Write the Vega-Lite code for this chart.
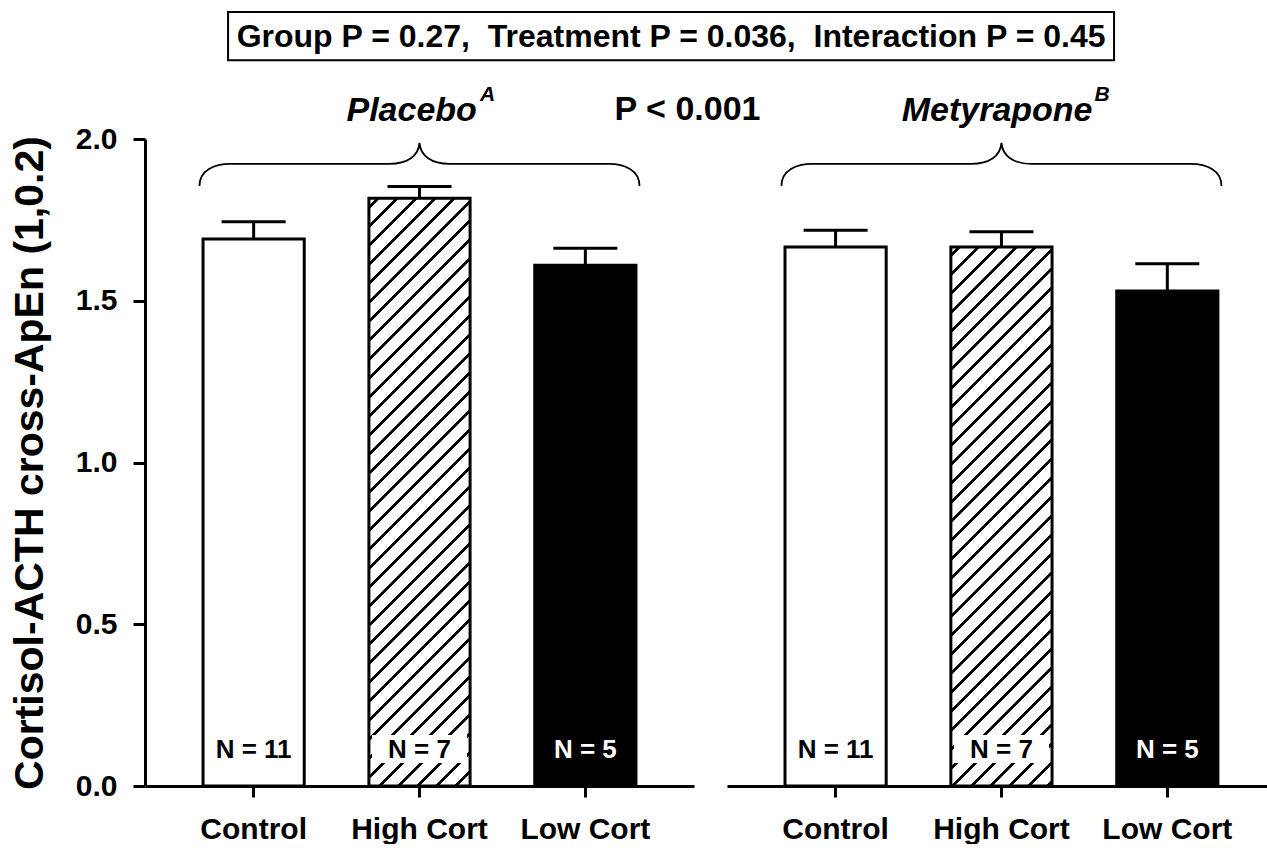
{
  "$schema": "https://vega.github.io/schema/vega-lite/v6.json",
  "padding": {"left": 9, "top": 8, "right": 0, "bottom": 0},
  "background": "white",
  "config": {"view": {"stroke": null}, "font": "Liberation Sans", "axis": {"grid": false}},
  "datasets": {
    "placebo": [
      {"group": "Placebo", "treatment": "Control", "mean": 1.691, "upper": 1.744, "n": "N = 11"},
      {"group": "Placebo", "treatment": "High Cort", "mean": 1.817, "upper": 1.853, "n": "N = 7"},
      {"group": "Placebo", "treatment": "Low Cort", "mean": 1.61, "upper": 1.662, "n": "N = 5"}
    ],
    "metyrapone": [
      {"group": "Metyrapone", "treatment": "Control", "mean": 1.666, "upper": 1.718, "n": "N = 11"},
      {"group": "Metyrapone", "treatment": "High Cort", "mean": 1.666, "upper": 1.713, "n": "N = 7"},
      {"group": "Metyrapone", "treatment": "Low Cort", "mean": 1.53, "upper": 1.614, "n": "N = 5"}
    ]
  },
  "hconcat": [
    {
      "width": 549,
      "height": 647,
      "data": {"name": "placebo"},
      "encoding": {
        "x": {"field": "treatment", "type": "nominal", "sort": ["Control", "High Cort", "Low Cort"],
          "scale": {"domain": ["Control", "High Cort", "Low Cort"], "paddingInner": 0.39, "paddingOuter": 0.35},
          "axis": {"title": null, "labelAngle": 0, "domainWidth": 3, "domainColor": "black", "tickWidth": 3, "tickSize": 11, "tickColor": "black", "labelFont": "Liberation Sans", "labelFontSize": 30, "labelFontWeight": "bold", "labelColor": "black", "labelPadding": 17}},
        "y": {"field": "mean", "type": "quantitative", "scale": {"domain": [0, 2], "nice": false, "zero": true},
          "axis": {"title": "Cortisol-ACTH cross-ApEn (1,0.2)", "values": [0, 0.5, 1, 1.5, 2], "format": ".1f", "domainWidth": 3, "domainColor": "black", "tickWidth": 3, "tickSize": 12, "tickColor": "black", "labelFont": "Liberation Sans", "labelFontSize": 30, "labelFontWeight": "bold", "labelColor": "black", "labelPadding": 16, "titleFont": "Liberation Sans", "titleFontSize": 41, "titleFontWeight": "bold", "titleColor": "black", "titlePadding": 24}}
      },
      "layer": [
        {"transform": [{"filter": "datum.treatment !== 'High Cort'"}],
          "mark": {"type": "bar", "stroke": "black", "strokeWidth": 3},
          "encoding": {"fill": {"condition": {"test": "datum.treatment === 'Low Cort'", "value": "black"}, "value": "white"}}},
        {"transform": [{"filter": "datum.treatment === 'High Cort'"}],
          "mark": {"type": "bar", "stroke": "black", "strokeWidth": 3,
            "fill": {"gradient": "linear", "x1": 0, "y1": 0, "x2": 0.1955, "y2": 1.1382, "stops": [
              {"offset": 0.01, "color": "#ffffff"}, {"offset": 0.01, "color": "#000000"}, {"offset": 0.016, "color": "#000000"}, {"offset": 0.016, "color": "#ffffff"},
              {"offset": 0.0376, "color": "#ffffff"}, {"offset": 0.0376, "color": "#000000"}, {"offset": 0.0436, "color": "#000000"}, {"offset": 0.0436, "color": "#ffffff"},
              {"offset": 0.0652, "color": "#ffffff"}, {"offset": 0.0652, "color": "#000000"}, {"offset": 0.0712, "color": "#000000"}, {"offset": 0.0712, "color": "#ffffff"},
              {"offset": 0.0928, "color": "#ffffff"}, {"offset": 0.0928, "color": "#000000"}, {"offset": 0.0988, "color": "#000000"}, {"offset": 0.0988, "color": "#ffffff"},
              {"offset": 0.1204, "color": "#ffffff"}, {"offset": 0.1204, "color": "#000000"}, {"offset": 0.1264, "color": "#000000"}, {"offset": 0.1264, "color": "#ffffff"},
              {"offset": 0.148, "color": "#ffffff"}, {"offset": 0.148, "color": "#000000"}, {"offset": 0.154, "color": "#000000"}, {"offset": 0.154, "color": "#ffffff"},
              {"offset": 0.1756, "color": "#ffffff"}, {"offset": 0.1756, "color": "#000000"}, {"offset": 0.1816, "color": "#000000"}, {"offset": 0.1816, "color": "#ffffff"},
              {"offset": 0.2032, "color": "#ffffff"}, {"offset": 0.2032, "color": "#000000"}, {"offset": 0.2092, "color": "#000000"}, {"offset": 0.2092, "color": "#ffffff"},
              {"offset": 0.2308, "color": "#ffffff"}, {"offset": 0.2308, "color": "#000000"}, {"offset": 0.2368, "color": "#000000"}, {"offset": 0.2368, "color": "#ffffff"},
              {"offset": 0.2584, "color": "#ffffff"}, {"offset": 0.2584, "color": "#000000"}, {"offset": 0.2644, "color": "#000000"}, {"offset": 0.2644, "color": "#ffffff"},
              {"offset": 0.286, "color": "#ffffff"}, {"offset": 0.286, "color": "#000000"}, {"offset": 0.292, "color": "#000000"}, {"offset": 0.292, "color": "#ffffff"},
              {"offset": 0.3136, "color": "#ffffff"}, {"offset": 0.3136, "color": "#000000"}, {"offset": 0.3196, "color": "#000000"}, {"offset": 0.3196, "color": "#ffffff"},
              {"offset": 0.3412, "color": "#ffffff"}, {"offset": 0.3412, "color": "#000000"}, {"offset": 0.3472, "color": "#000000"}, {"offset": 0.3472, "color": "#ffffff"},
              {"offset": 0.3688, "color": "#ffffff"}, {"offset": 0.3688, "color": "#000000"}, {"offset": 0.3748, "color": "#000000"}, {"offset": 0.3748, "color": "#ffffff"},
              {"offset": 0.3964, "color": "#ffffff"}, {"offset": 0.3964, "color": "#000000"}, {"offset": 0.4024, "color": "#000000"}, {"offset": 0.4024, "color": "#ffffff"},
              {"offset": 0.424, "color": "#ffffff"}, {"offset": 0.424, "color": "#000000"}, {"offset": 0.43, "color": "#000000"}, {"offset": 0.43, "color": "#ffffff"},
              {"offset": 0.4516, "color": "#ffffff"}, {"offset": 0.4516, "color": "#000000"}, {"offset": 0.4576, "color": "#000000"}, {"offset": 0.4576, "color": "#ffffff"},
              {"offset": 0.4792, "color": "#ffffff"}, {"offset": 0.4792, "color": "#000000"}, {"offset": 0.4852, "color": "#000000"}, {"offset": 0.4852, "color": "#ffffff"},
              {"offset": 0.5068, "color": "#ffffff"}, {"offset": 0.5068, "color": "#000000"}, {"offset": 0.5128, "color": "#000000"}, {"offset": 0.5128, "color": "#ffffff"},
              {"offset": 0.5344, "color": "#ffffff"}, {"offset": 0.5344, "color": "#000000"}, {"offset": 0.5404, "color": "#000000"}, {"offset": 0.5404, "color": "#ffffff"},
              {"offset": 0.562, "color": "#ffffff"}, {"offset": 0.562, "color": "#000000"}, {"offset": 0.568, "color": "#000000"}, {"offset": 0.568, "color": "#ffffff"},
              {"offset": 0.5896, "color": "#ffffff"}, {"offset": 0.5896, "color": "#000000"}, {"offset": 0.5956, "color": "#000000"}, {"offset": 0.5956, "color": "#ffffff"},
              {"offset": 0.6172, "color": "#ffffff"}, {"offset": 0.6172, "color": "#000000"}, {"offset": 0.6232, "color": "#000000"}, {"offset": 0.6232, "color": "#ffffff"},
              {"offset": 0.6448, "color": "#ffffff"}, {"offset": 0.6448, "color": "#000000"}, {"offset": 0.6508, "color": "#000000"}, {"offset": 0.6508, "color": "#ffffff"},
              {"offset": 0.6724, "color": "#ffffff"}, {"offset": 0.6724, "color": "#000000"}, {"offset": 0.6784, "color": "#000000"}, {"offset": 0.6784, "color": "#ffffff"},
              {"offset": 0.7, "color": "#ffffff"}, {"offset": 0.7, "color": "#000000"}, {"offset": 0.706, "color": "#000000"}, {"offset": 0.706, "color": "#ffffff"},
              {"offset": 0.7276, "color": "#ffffff"}, {"offset": 0.7276, "color": "#000000"}, {"offset": 0.7336, "color": "#000000"}, {"offset": 0.7336, "color": "#ffffff"},
              {"offset": 0.7552, "color": "#ffffff"}, {"offset": 0.7552, "color": "#000000"}, {"offset": 0.7612, "color": "#000000"}, {"offset": 0.7612, "color": "#ffffff"},
              {"offset": 0.7828, "color": "#ffffff"}, {"offset": 0.7828, "color": "#000000"}, {"offset": 0.7888, "color": "#000000"}, {"offset": 0.7888, "color": "#ffffff"},
              {"offset": 0.8104, "color": "#ffffff"}, {"offset": 0.8104, "color": "#000000"}, {"offset": 0.8164, "color": "#000000"}, {"offset": 0.8164, "color": "#ffffff"},
              {"offset": 0.838, "color": "#ffffff"}, {"offset": 0.838, "color": "#000000"}, {"offset": 0.844, "color": "#000000"}, {"offset": 0.844, "color": "#ffffff"},
              {"offset": 0.8656, "color": "#ffffff"}, {"offset": 0.8656, "color": "#000000"}, {"offset": 0.8716, "color": "#000000"}, {"offset": 0.8716, "color": "#ffffff"},
              {"offset": 0.8932, "color": "#ffffff"}, {"offset": 0.8932, "color": "#000000"}, {"offset": 0.8992, "color": "#000000"}, {"offset": 0.8992, "color": "#ffffff"},
              {"offset": 0.9208, "color": "#ffffff"}, {"offset": 0.9208, "color": "#000000"}, {"offset": 0.9268, "color": "#000000"}, {"offset": 0.9268, "color": "#ffffff"},
              {"offset": 0.9484, "color": "#ffffff"}, {"offset": 0.9484, "color": "#000000"}, {"offset": 0.9544, "color": "#000000"}, {"offset": 0.9544, "color": "#ffffff"},
              {"offset": 0.976, "color": "#ffffff"}, {"offset": 0.976, "color": "#000000"}, {"offset": 0.982, "color": "#000000"}, {"offset": 0.982, "color": "#ffffff"}
            ]}}},
        {"transform": [{"filter": "datum.treatment === 'High Cort'"}],
          "mark": {"type": "bar", "fill": "white", "width": {"band": 0.94}},
          "encoding": {"y": {"datum": 0.071}, "y2": {"datum": 0.158}}},
        {"mark": {"type": "rule", "color": "black", "strokeWidth": 3},
          "encoding": {"y": {"field": "mean", "type": "quantitative"}, "y2": {"field": "upper"}}},
        {"mark": {"type": "tick", "color": "black", "size": 64, "thickness": 3, "opacity": 1},
          "encoding": {"y": {"field": "upper", "type": "quantitative"}}},
        {"mark": {"type": "text", "font": "Liberation Sans", "fontSize": 26, "fontWeight": "bold", "baseline": "middle", "align": "center"},
          "encoding": {"y": {"datum": 0.111}, "text": {"field": "n"},
            "color": {"condition": {"test": "datum.treatment === 'Low Cort'", "value": "white"}, "value": "black"}}},
        {"transform": [{"filter": "datum.treatment === 'High Cort'"}],
          "mark": {"type": "point", "shape": "M -1 0.1 C -1 0.0273 -0.9318 0 -0.8591 0 L -0.1364 0 C -0.0545 0 -0.0045 -0.0364 0 -0.0955 C 0.0045 -0.0364 0.0545 0 0.1364 0 L 0.8591 0 C 0.9318 0 1 0.0273 1 0.1", "size": 193600, "filled": false, "color": "black", "strokeWidth": 1.8, "opacity": 1},
          "encoding": {"y": {"datum": 1.923}}},
        {"transform": [{"filter": "datum.treatment === 'High Cort'"}],
          "mark": {"type": "text", "text": "Placebo", "font": "Liberation Sans", "fontSize": 34, "fontWeight": "bold", "fontStyle": "italic", "align": "right", "baseline": "alphabetic", "color": "black"},
          "encoding": {"x": {"field": "treatment", "type": "nominal", "bandPosition": 1.067}, "y": {"datum": 2.056}}},
        {"transform": [{"filter": "datum.treatment === 'High Cort'"}],
          "mark": {"type": "text", "text": "A", "font": "Liberation Sans", "fontSize": 21, "fontWeight": "bold", "fontStyle": "italic", "align": "left", "baseline": "alphabetic", "color": "black"},
          "encoding": {"x": {"field": "treatment", "type": "nominal", "bandPosition": 1.097}, "y": {"datum": 2.117}}},
        {"transform": [{"filter": "datum.treatment === 'Low Cort'"}],
          "mark": {"type": "text", "text": "P < 0.001", "font": "Liberation Sans", "fontSize": 34, "fontWeight": "bold", "align": "center", "baseline": "alphabetic", "color": "black"},
          "encoding": {"x": {"field": "treatment", "type": "nominal", "bandPosition": 1.51}, "y": {"datum": 2.059}}},
        {"transform": [{"filter": "datum.treatment === 'Low Cort'"}],
          "mark": {"type": "text", "text": "Group P = 0.27,\u00a0 Treatment P = 0.036,\u00a0 Interaction P = 0.45", "font": "Liberation Sans", "fontSize": 32, "fontWeight": "bold", "align": "center", "baseline": "alphabetic", "color": "black"},
          "encoding": {"x": {"field": "treatment", "type": "nominal", "bandPosition": 1.347}, "y": {"datum": 2.283}}},
        {"transform": [{"filter": "datum.treatment === 'Low Cort'"}],
          "mark": {"type": "point", "shape": "M -1 -0.0542 L 1 -0.0542 L 1 0.0542 L -1 0.0542 Z", "size": 784996, "filled": false, "color": "black", "strokeWidth": 2, "opacity": 1},
          "encoding": {"x": {"field": "treatment", "type": "nominal", "bandPosition": 1.347}, "y": {"datum": 2.318}}}
      ]
    },
    {
      "width": 540,
      "height": 647,
      "data": {"name": "metyrapone"},
      "encoding": {
        "x": {"field": "treatment", "type": "nominal", "sort": ["Control", "High Cort", "Low Cort"],
          "scale": {"domain": ["Control", "High Cort", "Low Cort"], "paddingInner": 0.39, "paddingOuter": 0.3229, "align": 0.5416},
          "axis": {"title": null, "labelAngle": 0, "domainWidth": 3, "domainColor": "black", "tickWidth": 3, "tickSize": 11, "tickColor": "black", "labelFont": "Liberation Sans", "labelFontSize": 30, "labelFontWeight": "bold", "labelColor": "black", "labelPadding": 17}},
        "y": {"field": "mean", "type": "quantitative", "scale": {"domain": [0, 2], "nice": false, "zero": true}, "axis": null}
      },
      "layer": [
        {"transform": [{"filter": "datum.treatment !== 'High Cort'"}],
          "mark": {"type": "bar", "stroke": "black", "strokeWidth": 3},
          "encoding": {"fill": {"condition": {"test": "datum.treatment === 'Low Cort'", "value": "black"}, "value": "white"}}},
        {"transform": [{"filter": "datum.treatment === 'High Cort'"}],
          "mark": {"type": "bar", "stroke": "black", "strokeWidth": 3,
            "fill": {"gradient": "linear", "x1": 0, "y1": 0, "x2": 0.215, "y2": 1.1471, "stops": [
              {"offset": 0.01, "color": "#ffffff"}, {"offset": 0.01, "color": "#000000"}, {"offset": 0.0166, "color": "#000000"}, {"offset": 0.0166, "color": "#ffffff"},
              {"offset": 0.0397, "color": "#ffffff"}, {"offset": 0.0397, "color": "#000000"}, {"offset": 0.0463, "color": "#000000"}, {"offset": 0.0463, "color": "#ffffff"},
              {"offset": 0.0694, "color": "#ffffff"}, {"offset": 0.0694, "color": "#000000"}, {"offset": 0.076, "color": "#000000"}, {"offset": 0.076, "color": "#ffffff"},
              {"offset": 0.0991, "color": "#ffffff"}, {"offset": 0.0991, "color": "#000000"}, {"offset": 0.1057, "color": "#000000"}, {"offset": 0.1057, "color": "#ffffff"},
              {"offset": 0.1288, "color": "#ffffff"}, {"offset": 0.1288, "color": "#000000"}, {"offset": 0.1354, "color": "#000000"}, {"offset": 0.1354, "color": "#ffffff"},
              {"offset": 0.1585, "color": "#ffffff"}, {"offset": 0.1585, "color": "#000000"}, {"offset": 0.1651, "color": "#000000"}, {"offset": 0.1651, "color": "#ffffff"},
              {"offset": 0.1882, "color": "#ffffff"}, {"offset": 0.1882, "color": "#000000"}, {"offset": 0.1948, "color": "#000000"}, {"offset": 0.1948, "color": "#ffffff"},
              {"offset": 0.2179, "color": "#ffffff"}, {"offset": 0.2179, "color": "#000000"}, {"offset": 0.2245, "color": "#000000"}, {"offset": 0.2245, "color": "#ffffff"},
              {"offset": 0.2476, "color": "#ffffff"}, {"offset": 0.2476, "color": "#000000"}, {"offset": 0.2542, "color": "#000000"}, {"offset": 0.2542, "color": "#ffffff"},
              {"offset": 0.2773, "color": "#ffffff"}, {"offset": 0.2773, "color": "#000000"}, {"offset": 0.2839, "color": "#000000"}, {"offset": 0.2839, "color": "#ffffff"},
              {"offset": 0.307, "color": "#ffffff"}, {"offset": 0.307, "color": "#000000"}, {"offset": 0.3136, "color": "#000000"}, {"offset": 0.3136, "color": "#ffffff"},
              {"offset": 0.3367, "color": "#ffffff"}, {"offset": 0.3367, "color": "#000000"}, {"offset": 0.3433, "color": "#000000"}, {"offset": 0.3433, "color": "#ffffff"},
              {"offset": 0.3664, "color": "#ffffff"}, {"offset": 0.3664, "color": "#000000"}, {"offset": 0.373, "color": "#000000"}, {"offset": 0.373, "color": "#ffffff"},
              {"offset": 0.3961, "color": "#ffffff"}, {"offset": 0.3961, "color": "#000000"}, {"offset": 0.4027, "color": "#000000"}, {"offset": 0.4027, "color": "#ffffff"},
              {"offset": 0.4258, "color": "#ffffff"}, {"offset": 0.4258, "color": "#000000"}, {"offset": 0.4324, "color": "#000000"}, {"offset": 0.4324, "color": "#ffffff"},
              {"offset": 0.4555, "color": "#ffffff"}, {"offset": 0.4555, "color": "#000000"}, {"offset": 0.4621, "color": "#000000"}, {"offset": 0.4621, "color": "#ffffff"},
              {"offset": 0.4852, "color": "#ffffff"}, {"offset": 0.4852, "color": "#000000"}, {"offset": 0.4918, "color": "#000000"}, {"offset": 0.4918, "color": "#ffffff"},
              {"offset": 0.5149, "color": "#ffffff"}, {"offset": 0.5149, "color": "#000000"}, {"offset": 0.5215, "color": "#000000"}, {"offset": 0.5215, "color": "#ffffff"},
              {"offset": 0.5446, "color": "#ffffff"}, {"offset": 0.5446, "color": "#000000"}, {"offset": 0.5512, "color": "#000000"}, {"offset": 0.5512, "color": "#ffffff"},
              {"offset": 0.5743, "color": "#ffffff"}, {"offset": 0.5743, "color": "#000000"}, {"offset": 0.5809, "color": "#000000"}, {"offset": 0.5809, "color": "#ffffff"},
              {"offset": 0.604, "color": "#ffffff"}, {"offset": 0.604, "color": "#000000"}, {"offset": 0.6106, "color": "#000000"}, {"offset": 0.6106, "color": "#ffffff"},
              {"offset": 0.6337, "color": "#ffffff"}, {"offset": 0.6337, "color": "#000000"}, {"offset": 0.6403, "color": "#000000"}, {"offset": 0.6403, "color": "#ffffff"},
              {"offset": 0.6634, "color": "#ffffff"}, {"offset": 0.6634, "color": "#000000"}, {"offset": 0.67, "color": "#000000"}, {"offset": 0.67, "color": "#ffffff"},
              {"offset": 0.6931, "color": "#ffffff"}, {"offset": 0.6931, "color": "#000000"}, {"offset": 0.6997, "color": "#000000"}, {"offset": 0.6997, "color": "#ffffff"},
              {"offset": 0.7228, "color": "#ffffff"}, {"offset": 0.7228, "color": "#000000"}, {"offset": 0.7294, "color": "#000000"}, {"offset": 0.7294, "color": "#ffffff"},
              {"offset": 0.7525, "color": "#ffffff"}, {"offset": 0.7525, "color": "#000000"}, {"offset": 0.7591, "color": "#000000"}, {"offset": 0.7591, "color": "#ffffff"},
              {"offset": 0.7822, "color": "#ffffff"}, {"offset": 0.7822, "color": "#000000"}, {"offset": 0.7888, "color": "#000000"}, {"offset": 0.7888, "color": "#ffffff"},
              {"offset": 0.8119, "color": "#ffffff"}, {"offset": 0.8119, "color": "#000000"}, {"offset": 0.8185, "color": "#000000"}, {"offset": 0.8185, "color": "#ffffff"},
              {"offset": 0.8416, "color": "#ffffff"}, {"offset": 0.8416, "color": "#000000"}, {"offset": 0.8482, "color": "#000000"}, {"offset": 0.8482, "color": "#ffffff"},
              {"offset": 0.8713, "color": "#ffffff"}, {"offset": 0.8713, "color": "#000000"}, {"offset": 0.8779, "color": "#000000"}, {"offset": 0.8779, "color": "#ffffff"},
              {"offset": 0.901, "color": "#ffffff"}, {"offset": 0.901, "color": "#000000"}, {"offset": 0.9076, "color": "#000000"}, {"offset": 0.9076, "color": "#ffffff"},
              {"offset": 0.9307, "color": "#ffffff"}, {"offset": 0.9307, "color": "#000000"}, {"offset": 0.9373, "color": "#000000"}, {"offset": 0.9373, "color": "#ffffff"},
              {"offset": 0.9604, "color": "#ffffff"}, {"offset": 0.9604, "color": "#000000"}, {"offset": 0.967, "color": "#000000"}, {"offset": 0.967, "color": "#ffffff"},
              {"offset": 0.9901, "color": "#ffffff"}, {"offset": 0.9901, "color": "#000000"}, {"offset": 0.9967, "color": "#000000"}, {"offset": 0.9967, "color": "#ffffff"}
            ]}}},
        {"transform": [{"filter": "datum.treatment === 'High Cort'"}],
          "mark": {"type": "bar", "fill": "white", "width": {"band": 0.94}},
          "encoding": {"y": {"datum": 0.071}, "y2": {"datum": 0.158}}},
        {"mark": {"type": "rule", "color": "black", "strokeWidth": 3},
          "encoding": {"y": {"field": "mean", "type": "quantitative"}, "y2": {"field": "upper"}}},
        {"mark": {"type": "tick", "color": "black", "size": 64, "thickness": 3, "opacity": 1},
          "encoding": {"y": {"field": "upper", "type": "quantitative"}}},
        {"mark": {"type": "text", "font": "Liberation Sans", "fontSize": 26, "fontWeight": "bold", "baseline": "middle", "align": "center"},
          "encoding": {"y": {"datum": 0.111}, "text": {"field": "n"},
            "color": {"condition": {"test": "datum.treatment === 'Low Cort'", "value": "white"}, "value": "black"}}},
        {"transform": [{"filter": "datum.treatment === 'High Cort'"}],
          "mark": {"type": "point", "shape": "M -1 0.1 C -1 0.0273 -0.9318 0 -0.8591 0 L -0.1364 0 C -0.0545 0 -0.0045 -0.0364 0 -0.0955 C 0.0045 -0.0364 0.0545 0 0.1364 0 L 0.8591 0 C 0.9318 0 1 0.0273 1 0.1", "size": 193600, "filled": false, "color": "black", "strokeWidth": 1.8, "opacity": 1},
          "encoding": {"y": {"datum": 1.923}}},
        {"transform": [{"filter": "datum.treatment === 'High Cort'"}],
          "mark": {"type": "text", "text": "Metyrapone", "font": "Liberation Sans", "fontSize": 34, "fontWeight": "bold", "fontStyle": "italic", "align": "right", "baseline": "alphabetic", "color": "black"},
          "encoding": {"x": {"field": "treatment", "type": "nominal", "bandPosition": 1.4}, "y": {"datum": 2.056}}},
        {"transform": [{"filter": "datum.treatment === 'High Cort'"}],
          "mark": {"type": "text", "text": "B", "font": "Liberation Sans", "fontSize": 21, "fontWeight": "bold", "fontStyle": "italic", "align": "left", "baseline": "alphabetic", "color": "black"},
          "encoding": {"x": {"field": "treatment", "type": "nominal", "bandPosition": 1.42}, "y": {"datum": 2.117}}}
      ]
    }
  ],
  "spacing": 33,
  "bounds": "flush",
  "resolve": {"scale": {"x": "independent", "y": "independent"}}
}
